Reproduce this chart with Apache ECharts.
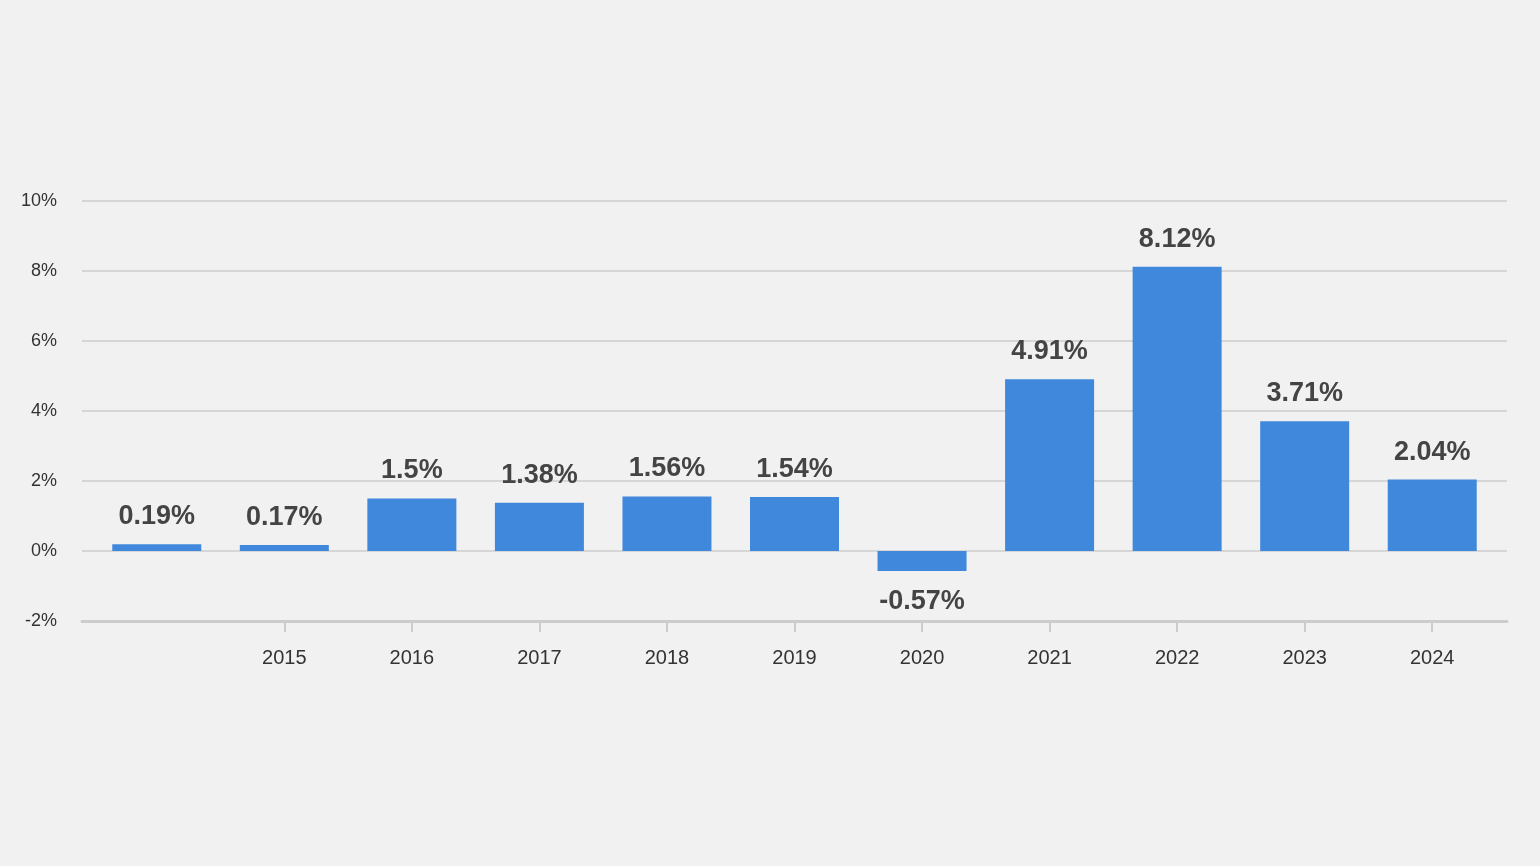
<!DOCTYPE html>
<html><head><meta charset="utf-8">
<script src="https://cdn.jsdelivr.net/npm/echarts@6/dist/echarts.min.js"></script>
<style>html,body{margin:0;padding:0;background:#f1f1f1;}#c{width:1540px;height:866px;}</style>
</head><body><div id="c"></div>
<script>
const categories = ['', '2015', '2016', '2017', '2018', '2019', '2020', '2021', '2022', '2023', '2024'];
const values = [0.19, 0.17, 1.5, 1.38, 1.56, 1.54, -0.57, 4.91, 8.12, 3.71, 2.04];
const yTicks = { min: -2, max: 10, interval: 2 };

const chart = echarts.init(document.getElementById('c'));
const font = 'Liberation Sans, Arial, sans-serif';
chart.setOption({
  backgroundColor: '#f1f1f1',
  animation: false,
  grid: [
    { left: 93, right: 44, top: 201, bottom: 245 },
    { left: 82, right: 33, top: 201, bottom: 245 }
  ],
  xAxis: [
    { type: 'category', gridIndex: 0, data: categories,
      axisLine: { show: false, onZero: false },
      axisTick: { show: true, alignWithLabel: true, length: 11, lineStyle: { color: '#cccccc', width: 2 },
        interval: function (i, v) { return v !== ''; } },
      axisLabel: { color: '#333', fontSize: 20, fontFamily: font, margin: 27, interval: 0 },
      splitLine: { show: false } },
    { type: 'value', gridIndex: 1, min: 0, max: 1,
      axisLine: { show: true, onZero: false, lineStyle: { color: '#cccccc', width: 3 } },
      axisTick: { show: false }, axisLabel: { show: false }, splitLine: { show: false } }
  ],
  yAxis: [
    { type: 'value', gridIndex: 0, min: yTicks.min, max: yTicks.max, interval: yTicks.interval,
      show: false, splitLine: { show: false } },
    { type: 'value', gridIndex: 1, min: yTicks.min, max: yTicks.max, interval: yTicks.interval,
      axisLine: { show: false }, axisTick: { show: false },
      axisLabel: { color: '#333', fontSize: 18, fontFamily: font, margin: 25, formatter: '{value}%' },
      splitLine: { show: true, lineStyle: { color: '#d6d6d6', width: 2 } } }
  ],
  series: [{
    type: 'bar', xAxisIndex: 0, yAxisIndex: 0, barWidth: 89,
    itemStyle: { color: '#4088dc' },
    data: values.map(v => ({ value: v, label: { position: v < 0 ? 'bottom' : 'top', distance: v < 0 ? 17 : 14 } })),
    label: { show: true, formatter: p => p.value + '%', color: '#444',
      fontSize: 27, fontWeight: 'bold', fontFamily: font }
  }]
});
</script></body></html>
